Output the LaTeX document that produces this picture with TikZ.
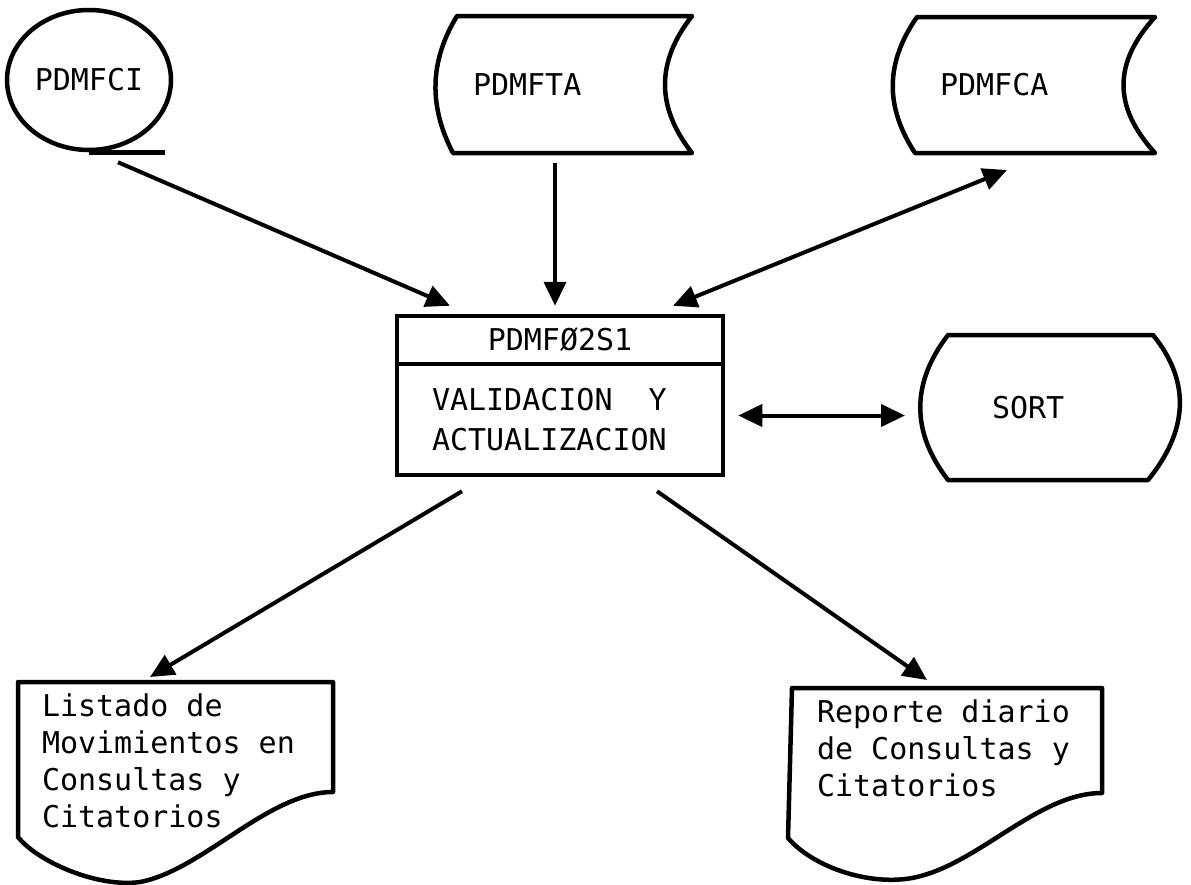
\documentclass[tikz,border=0pt]{standalone}
\usepackage{fontspec}
\newfontfamily\tipo{DejaVu Sans Mono}
\usetikzlibrary{arrows.meta, positioning, shapes.geometric}
\tikzset{
        >={Triangle[length=24pt,width=22pt]}, % big filled heads
        every node/.style={font=\tipo\fontsize{30}{37}\selectfont, execute at begin node={\spaceskip=0.602em\relax}},
        flow/.style={->, line width=4pt}, % connectors
        outline/.style={line width=4.5pt, line join=round},
    }
\tikzset{
      storedata/.style={
		text width=#1,
		align=left,
		minimum height=137pt,
		inner ysep=0pt,
		outer sep=0pt,
	  },
      sortnode/.style={
		text width=114pt,
		inner xsep=44pt,
		align=left,
		minimum height=145pt,
		inner ysep=0pt,
		outer sep=0pt,
	  },
      procbox/.style={
		draw,
		line width=4.5pt,
		minimum width=326pt,
	  },
      docnode/.style={
		anchor=north west,
		align=left,
		inner ysep=12pt,
		outer sep=0pt,
	  }
  	}

\begin{document}
\begin{tikzpicture}[x=1pt, y=-1pt, node distance=-4.5pt]
    \useasboundingbox (0,0) rectangle (1191,884);
    % files on top
    \node [ellipse, draw, line width=4.5pt, minimum width=164pt, minimum height=140pt, inner sep=0pt] (ci) at (89,80) {PDMFCI};
    \draw [outline] (ci.south) -- ++(76,0);
    \node [storedata=203pt, inner xsep=16pt] (ta) at (574.5,84.5) {PDMFTA};
    \draw [outline, shift={(ta.north west)}] (0,0) -- (235,0) .. controls (199,46) and (199,91) .. (235,137) -- (-4,137) .. controls (-28,91) and (-28,46) .. (0,0) -- cycle;
    \node [storedata=192pt, inner xsep=23pt, minimum height=136pt] (ca) at (1036,85) {PDMFCA};
    \draw [outline, shift={(ca.north west)}] (0,0) -- (238,0) .. controls (196,46) and (196,90) .. (238,136) -- (-2,136) .. controls (-32,90) and (-32,46) .. (0,0) -- cycle;
    % program
    \node [procbox, minimum height=48pt] (title) at (560,340) {PDMFØ2S1};
    \node [procbox, below=of title, minimum height=111pt, text width=256pt, inner xsep=35pt, align=left, font=\tipo\fontsize{30}{40}\selectfont] (proc) {VALIDACION\ \ Y\\ACTUALIZACION};
    \node [sortnode] (sort) at (1049,407.5) {SORT};
    \draw [outline, shift={(sort.north west)}] (0,0) -- (205,0) .. controls (244,48) and (239,97) .. (200,145) -- (0,145) .. controls (-37,97) and (-37,48) .. (0,0) -- cycle;
    % reports
    \node [docnode, text width=267pt, inner xsep=24pt] (lst) at (18,682) {Listado de\\Movimientos en\\Consultas y\\Citatorios};
    \draw [outline, shift={(lst.north west)}] (0,0) -- (315,0) -- (315,110) .. controls (250,110) and (185,188) .. (122,200) .. controls (80,206) and (20,180) .. (0,155) -- cycle;
    \node [docnode, text width=260pt, inner xsep=25pt] (rep) at (792,688) {Reporte diario\\de Consultas y\\Citatorios};
    \draw [outline, shift={(rep.north west)}] (0,0) -- (310,0) -- (310,105) .. controls (245,105) and (185,178) .. (120,190) .. controls (75,198) and (20,178) .. (-4,150) -- cycle;
    % connectors
    \draw [flow] ([xshift=29pt,yshift=-10pt]ci.south) -- ([xshift=-110pt,yshift=8pt]title.north);
    \draw [flow] ([xshift=-19.5pt,yshift=-10pt]ta.south) -- ([xshift=-5pt,yshift=8pt]title.north);
    \draw [flow, <->] ([xshift=-29pt,yshift=-17pt]ca.south) -- ([xshift=113pt,yshift=8pt]title.north);
    \draw [flow, <->] ([xshift=13pt,yshift=4pt]proc.east) -- ([xshift=-43pt,yshift=-8pt]sort.west);
    \draw [flow] ([xshift=-98pt,yshift=-14pt]proc.south) -- ([xshift=132pt,yshift=5pt]lst.north west);
    \draw [flow] ([xshift=97pt,yshift=-14pt]proc.south) -- ([xshift=135pt,yshift=8pt]rep.north west);
  \end{tikzpicture}
\end{document}
